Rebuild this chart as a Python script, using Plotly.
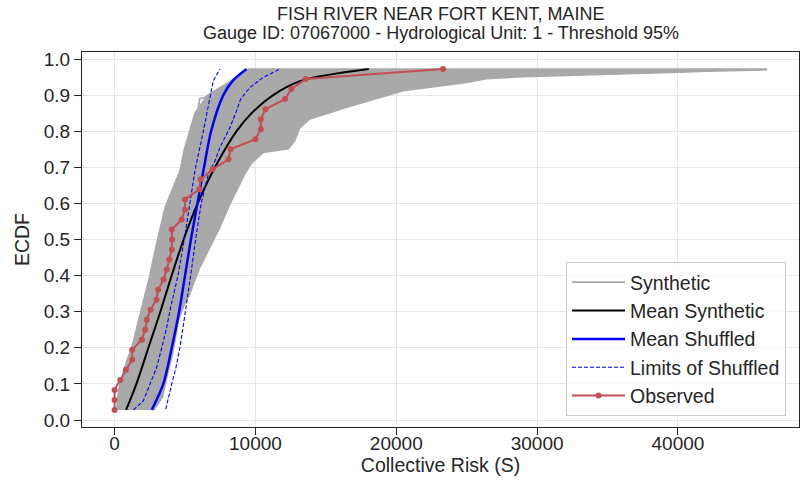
import plotly.graph_objects as go

# ---------------- data ----------------
# Observed ECDF (35 events, plotting positions i/36)
obs_y = [i / 36 for i in range(1, 36)]
obs_x = [0, 0, 0, 400, 800, 1250, 1250, 1930, 2170, 2290, 2550, 2970, 3090,
         3470, 3700, 3890, 4060, 4080, 4060, 4760, 5000, 5000, 6010, 6110,
         6960, 8090, 8230, 10000, 10380, 10380, 10710, 12100, 12550, 13560, 23320]

# Synthetic band: left envelope (bottom -> top)
band_left_y = [0.028, 0.081, 0.118, 0.164, 0.201, 0.257, 0.294, 0.330, 0.349,
               0.404, 0.469, 0.534, 0.589, 0.635, 0.690, 0.750, 0.800, 0.850,
               0.900, 0.940, 0.972]
band_left_x = [155, 270, 510, 865, 1220, 1570, 1810, 2040, 2160,
               2520, 2870, 3230, 3580, 4060, 4640, 4950, 5300, 5700,
               6600, 8300, 9500]
# Synthetic band: right / lower envelope (top right -> bottom)
band_right_y = [0.972, 0.970, 0.966, 0.963, 0.951, 0.945, 0.935, 0.921, 0.912,
                0.898, 0.885, 0.866, 0.848, 0.834, 0.810, 0.774, 0.751, 0.741,
                0.710, 0.685, 0.654, 0.598, 0.534, 0.478, 0.423, 0.377, 0.349,
                0.320, 0.275, 0.220, 0.173, 0.118, 0.063, 0.028]
band_right_x = [46280, 46280, 42000, 40100, 29000, 26400, 25000, 22380, 20480,
                19300, 18120, 16470, 15050, 13870, 13160, 12800, 12330, 10550,
                9700, 9300, 8900, 8190, 7480, 6770, 6060, 5590, 5350,
                4950, 4530, 4290, 4060, 3700, 3400, 2800]
# One visible outlying synthetic realisation
syn_out_y = [0.80, 0.85, 0.89, 0.90, 0.91, 0.94, 0.972]
syn_out_x = [5600, 5900, 6050, 7000, 7600, 8300, 9400]

# Mean of synthetic realisations
mean_syn_y = [0.028, 0.1, 0.2, 0.3, 0.4, 0.5, 0.6, 0.7, 0.8, 0.85, 0.9, 0.94, 0.972]
mean_syn_x = [820, 1550, 2400, 3250, 4050, 4900, 5900, 7130, 8660, 9730, 11260, 13270, 18050]

# Mean of shuffled
mean_shuf_y = [0.028, 0.1, 0.2, 0.3, 0.4, 0.5, 0.6, 0.7, 0.8, 0.9, 0.94, 0.972]
mean_shuf_x = [2640, 3460, 4060, 4580, 5000, 5420, 5880, 6350, 6850, 7720, 8400, 9370]

# Limits of shuffled
lim_lo_y = [0.028, 0.053, 0.1, 0.146, 0.2, 0.257, 0.312, 0.4, 0.5, 0.6, 0.69, 0.8, 0.9, 0.94, 0.972]
lim_lo_x = [1340, 2040, 2520, 2990, 3350, 3700, 3980, 4500, 4950, 5350, 5700, 6300, 6820, 7010, 7480]
lim_hi_y = [0.030, 0.063, 0.1, 0.146, 0.201, 0.275, 0.33, 0.4, 0.5, 0.6, 0.68, 0.718,
            0.755, 0.81, 0.857, 0.889, 0.921, 0.949, 0.972]
lim_hi_x = [3630, 3820, 4060, 4360, 4640, 4930, 5150, 5400, 5750, 6150, 6650, 7130,
            7480, 8190, 8660, 8950, 9610, 10550, 11740]

x_tick_vals = [0, 10000, 20000, 30000, 40000]
x_tick_text = ["0", "10000", "20000", "30000", "40000"]
y_tick_vals = [0.0, 0.1, 0.2, 0.3, 0.4, 0.5, 0.6, 0.7, 0.8, 0.9, 1.0]
y_tick_text = ["0.0", "0.1", "0.2", "0.3", "0.4", "0.5", "0.6", "0.7", "0.8", "0.9", "1.0"]

title_line1 = "FISH RIVER NEAR FORT KENT, MAINE"
title_line2 = "Gauge ID: 07067000 - Hydrological Unit: 1 - Threshold 95%"

# ---------------- styles ----------------
GREY = "#a9a9a9"
RED = "#c44e52"
BLUE = "#0000ff"
TXT = "#262626"
FONT = "Liberation Sans, Arial, sans-serif"

fig = go.Figure()

fig.add_trace(go.Scatter(
    x=band_left_x + band_right_x, y=band_left_y + band_right_y,
    mode="lines", fill="toself", fillcolor=GREY,
    line=dict(color=GREY, width=1.5), showlegend=False, hoverinfo="skip"))

fig.add_trace(go.Scatter(x=syn_out_x, y=syn_out_y, mode="lines", name="Synthetic",
                         line=dict(color=GREY, width=1.8)))

fig.add_trace(go.Scatter(x=mean_syn_x, y=mean_syn_y, mode="lines", name="Mean Synthetic",
                         line=dict(color="black", width=2, shape="spline", smoothing=0.8)))

fig.add_trace(go.Scatter(x=mean_shuf_x, y=mean_shuf_y, mode="lines", name="Mean Shuffled",
                         line=dict(color=BLUE, width=2.5, shape="spline", smoothing=0.8)))

fig.add_trace(go.Scatter(x=lim_lo_x, y=lim_lo_y, mode="lines", name="Limits of Shuffled",
                         line=dict(color=BLUE, width=1.1, dash="4px,2px")))
fig.add_trace(go.Scatter(x=lim_hi_x, y=lim_hi_y, mode="lines", name="Limits of Shuffled",
                         showlegend=False, line=dict(color=BLUE, width=1.1, dash="4px,2px")))

fig.add_trace(go.Scatter(x=obs_x, y=obs_y, mode="lines+markers", name="Observed",
                         line=dict(color=RED, width=2),
                         marker=dict(color=RED, size=6)))

axis_common = dict(
    showline=True, mirror=True, linecolor=TXT, linewidth=1.25,
    ticks="outside", ticklen=7, tickwidth=1.25, tickcolor=TXT,
    showgrid=True, gridcolor="#e6e6e6", gridwidth=1.2, zeroline=False,
    tickfont=dict(size=19, color=TXT, family=FONT),
    automargin=False,
)

# plot area spans x 82..799 and y 52..427 of the 800x485 canvas
fig.update_layout(
    width=800, height=485,
    margin=dict(l=82, r=1, t=52, b=58),
    paper_bgcolor="white", plot_bgcolor="white",
    font=dict(family=FONT, color=TXT),
    xaxis=dict(range=[-2314, 48594], tickvals=x_tick_vals, ticktext=x_tick_text,
               ticklabelstandoff=-8,
               title=dict(text="Collective Risk (S)", font=dict(size=19.5, color=TXT), standoff=4),
               **axis_common),
    yaxis=dict(range=[-0.0194, 1.0194], tickvals=y_tick_vals, ticktext=y_tick_text,
               title=dict(text="ECDF", font=dict(size=19.5, color=TXT), standoff=8),
               **axis_common),
    legend=dict(x=(566 - 82) / 717, y=(427 - 416) / 375, xanchor="left", yanchor="bottom",
                bgcolor="rgba(255,255,255,0.8)", bordercolor="#cccccc", borderwidth=1,
                itemwidth=53,
                font=dict(size=19.5, color=TXT, family=FONT)),
    annotations=[
        dict(text=title_line1, xref="paper", yref="paper", x=0.5, y=(427 - 14) / 375,
             xanchor="center", yanchor="middle", showarrow=False,
             font=dict(size=18, color=TXT, family=FONT)),
        dict(text=title_line2, xref="paper", yref="paper", x=0.5, y=(427 - 33) / 375,
             xanchor="center", yanchor="middle", showarrow=False,
             font=dict(size=18, color=TXT, family=FONT)),
    ],
)

# remove the default 8px page margin so the figure sits at the window's top-left
fig.write_html("out.html",
               config={"displayModeBar": False},
               post_script="document.body.style.margin='0';document.body.style.overflow='hidden';")
